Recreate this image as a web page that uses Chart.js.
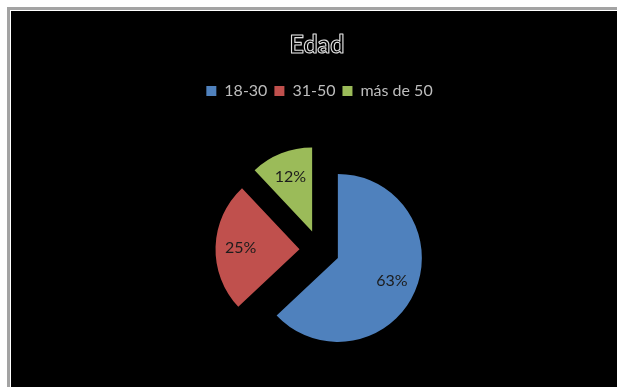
<!DOCTYPE html>
<html>
<head>
<meta charset="utf-8">
<script src="https://cdn.jsdelivr.net/npm/chart.js@4/dist/chart.umd.min.js"></script>
<style>
  html, body { margin: 0; padding: 0; background: #ffffff; width: 617px; height: 387px; overflow: hidden; }
  #frame { position: absolute; left: 7px; top: 7px; width: 620px; height: 390px;
           border-left: 3px solid #a3a3a3; border-top: 3px solid #a3a3a3;
           background: #000000; box-shadow: inset 1px 1px 0 #ffffff; }
  #wrap { position: absolute; left: 0; top: 0; width: 617px; height: 400px; }
</style>
</head>
<body>
<div id="frame"></div>
<div id="wrap"><canvas id="c"></canvas></div>
<script>
const chartTitle = 'Edad';
const categories = ['18-30', '31-50', 'más de 50'];
const values = [63, 25, 12];
const percentLabels = ['63%', '25%', '12%'];
const sliceColors = ['#4F81BD', '#C0504D', '#9BBB59'];

const EXPLODE = 20;      // px each slice is pulled out
const PIE_RADIUS = 84;
const LABEL_POS = 0.7;

const titlePlugin = {
  id: 'outlinedTitle',
  afterDraw(chart) {
    const ctx = chart.ctx;
    ctx.save();
    ctx.font = 'bold 25px Lato';
    ctx.textAlign = 'center';
    ctx.textBaseline = 'alphabetic';
    ctx.lineJoin = 'round';
    ctx.fillStyle = '#000000';
    ctx.fillText(chartTitle, 317, 53);
    ctx.strokeStyle = '#e0e0e0';
    ctx.lineWidth = 1.1;
    ctx.strokeText(chartTitle, 317, 53);
    ctx.restore();
  }
};

// Explode each slice outward along its mid-angle by EXPLODE px (Excel style),
// without changing the slice radius.
const explodePlugin = {
  id: 'explode',
  afterUpdate(chart) {
    const meta = chart.getDatasetMeta(0);
    meta.data.forEach((arc) => {
      if (arc._exploded) return;
      const orig = arc.draw;
      arc.draw = function (ctx) {
        const mid = (this.startAngle + this.endAngle) / 2;
        ctx.save();
        ctx.translate(Math.cos(mid) * EXPLODE, Math.sin(mid) * EXPLODE);
        orig.call(this, ctx);
        ctx.restore();
      };
      arc._exploded = true;
    });
  }
};

const labelPlugin = {
  id: 'sliceLabels',
  afterDatasetsDraw(chart) {
    const ctx = chart.ctx;
    const meta = chart.getDatasetMeta(0);
    ctx.save();
    ctx.font = '16px Lato';
    ctx.fillStyle = '#1c1c1c';
    ctx.textAlign = 'center';
    ctx.textBaseline = 'middle';
    meta.data.forEach((arc, i) => {
      const p = arc.getProps(['x', 'y', 'startAngle', 'endAngle', 'outerRadius'], true);
      const mid = (p.startAngle + p.endAngle) / 2;
      const r = EXPLODE + LABEL_POS * p.outerRadius;
      ctx.fillText(percentLabels[i], p.x + Math.cos(mid) * r, p.y + Math.sin(mid) * r);
    });
    ctx.restore();
  }
};

new Chart(document.getElementById('c'), {
  type: 'pie',
  data: {
    labels: categories,
    datasets: [{
      data: values,
      backgroundColor: sliceColors,
      borderWidth: 0,
      offset: 0
    }]
  },
  options: {
    responsive: true,
    maintainAspectRatio: false,
    animation: false,
    events: [],
    radius: PIE_RADIUS,
    layout: { padding: { top: 76, left: 22, right: 0, bottom: 9 } },
    plugins: {
      title: { display: false },
      tooltip: { enabled: false },
      legend: {
        display: true,
        position: 'top',
        labels: {
          boxWidth: 10,
          boxHeight: 10,
          padding: 7,
          color: '#bdbdbd',
          font: { family: 'Lato', size: 16 }
        }
      }
    }
  },
  plugins: [explodePlugin, titlePlugin, labelPlugin]
});
</script>
</body>
</html>
